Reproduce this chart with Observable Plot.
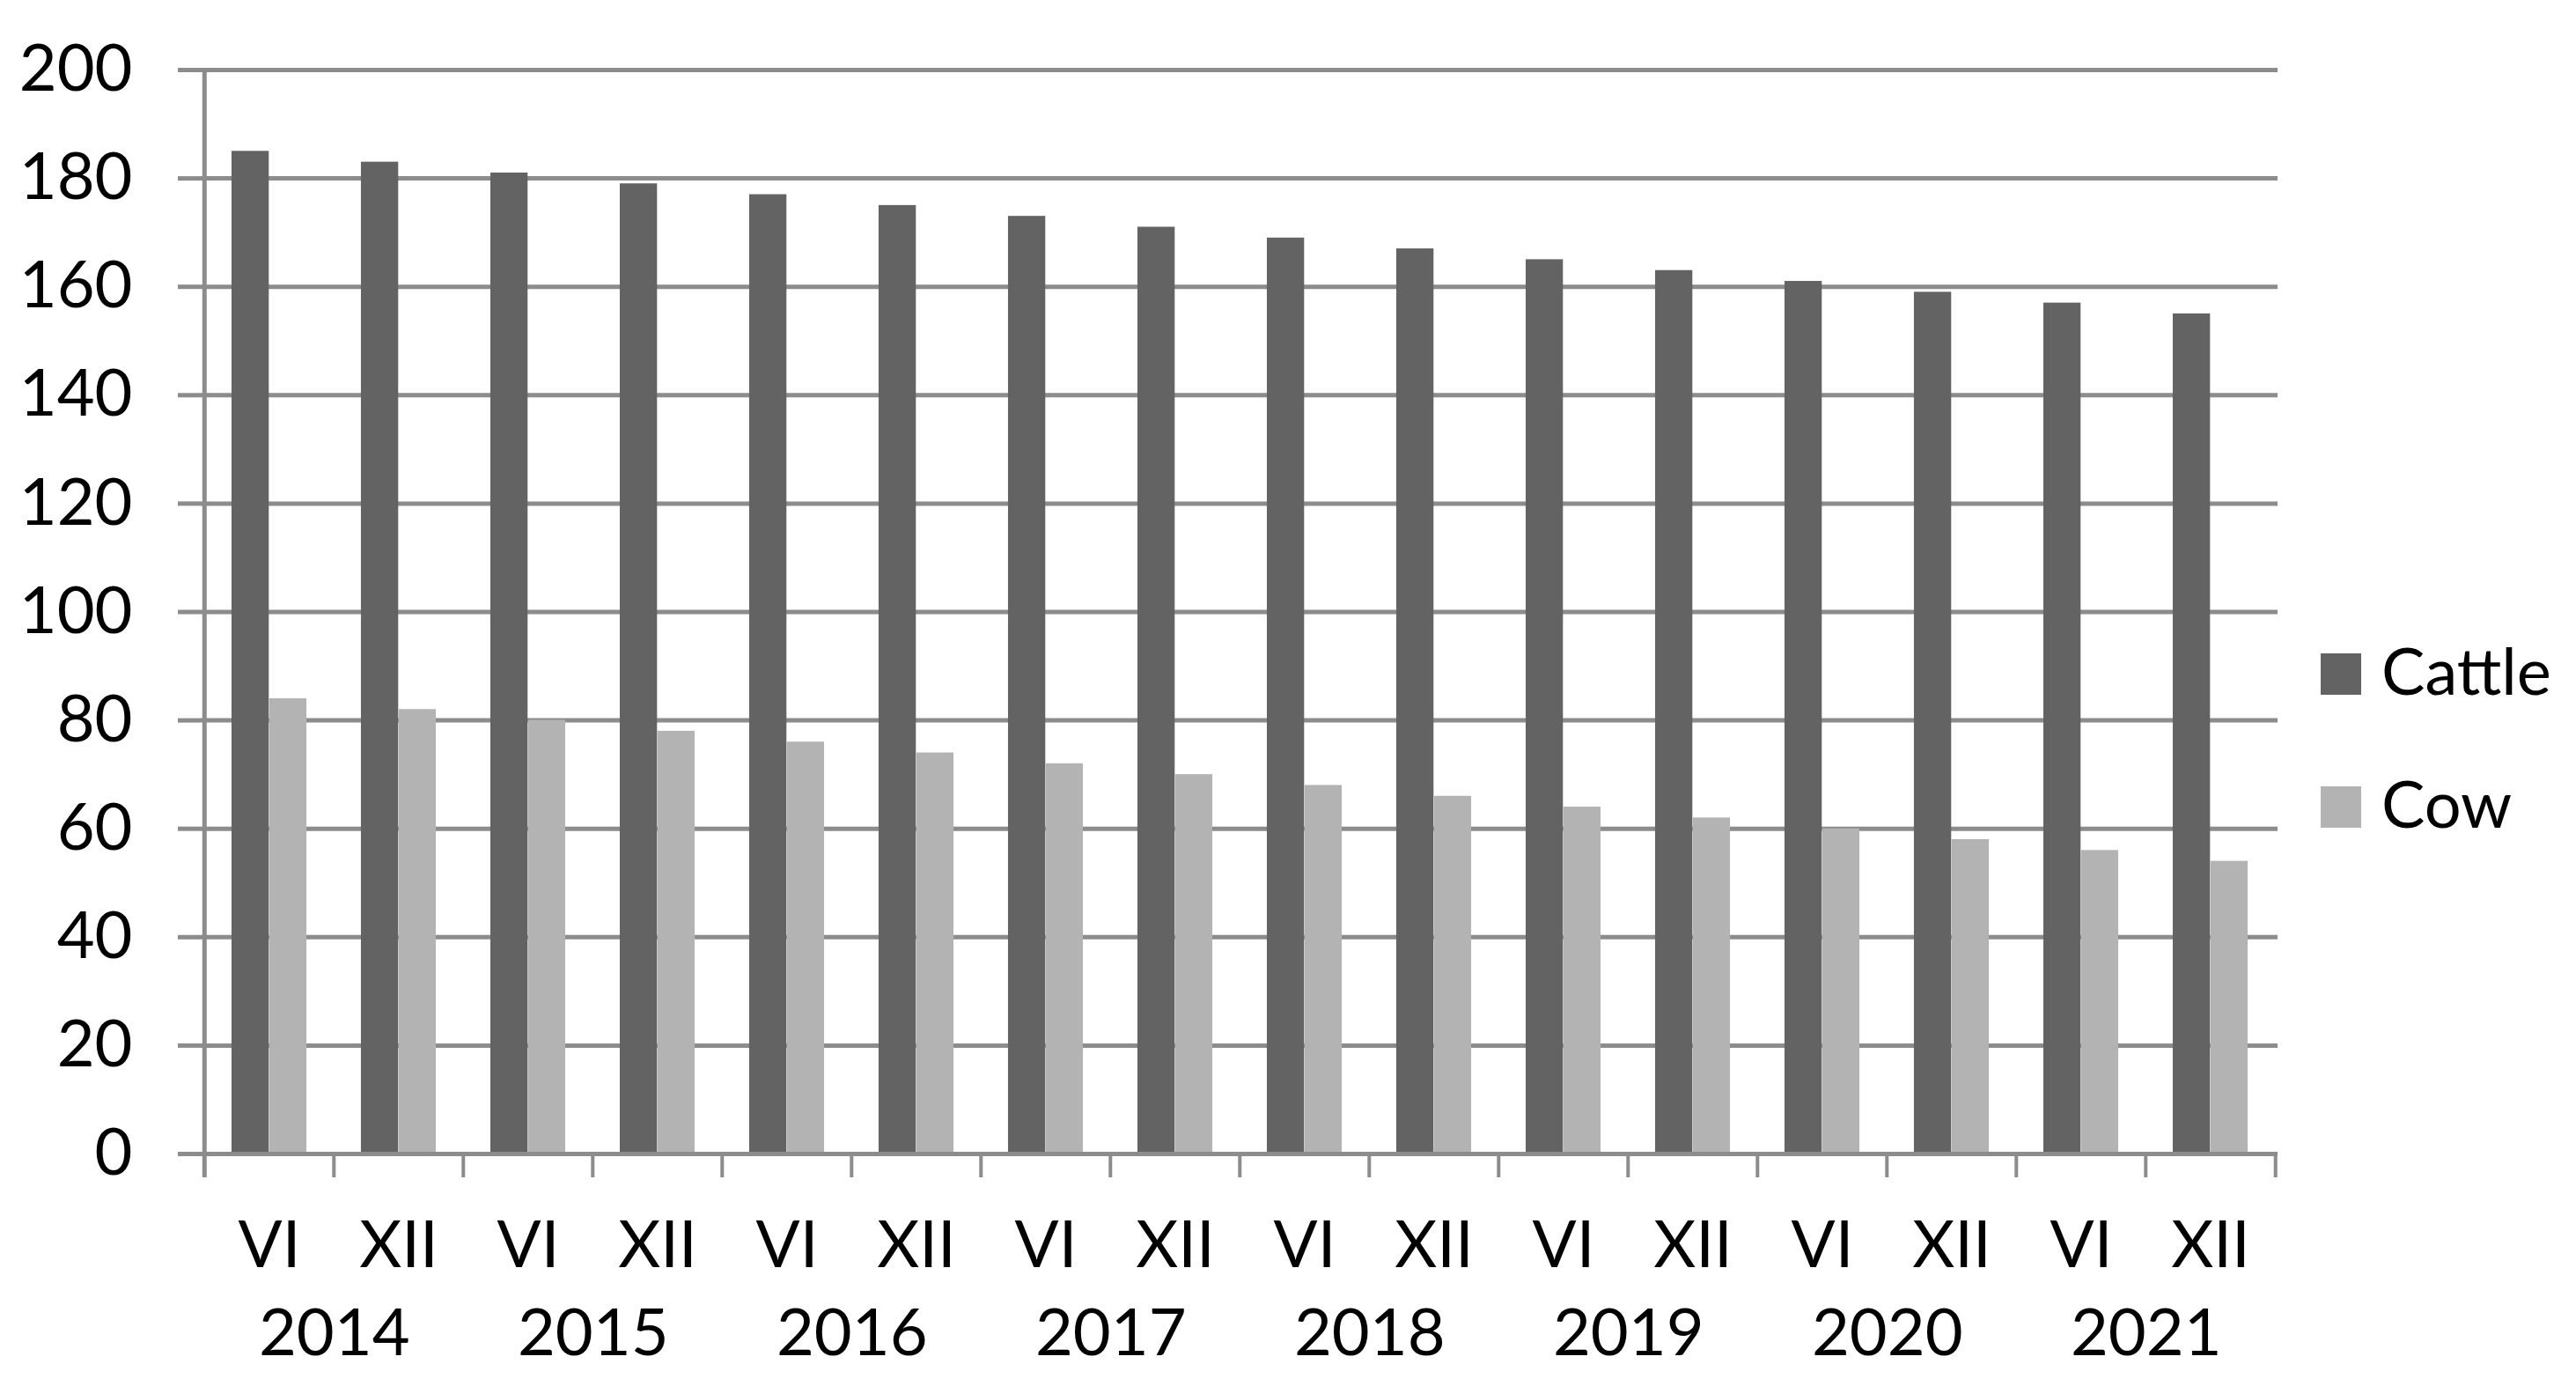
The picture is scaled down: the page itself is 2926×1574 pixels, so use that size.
<!DOCTYPE html>
<html>
<head>
<meta charset="utf-8">
<script src="https://cdn.jsdelivr.net/npm/d3@7"></script>
<script src="https://cdn.jsdelivr.net/npm/@observablehq/plot@0.6"></script>
<style>
  html, body { margin: 0; padding: 0; background: #fff; }
  #wrap { position: relative; width: 2926px; height: 1574px; font-family: Lato, "Open Sans", sans-serif; }
  #legend { position: absolute; left: 2636px; top: 726px; }
  .item { display: flex; align-items: center; height: 70px; margin-bottom: 81px; }
  .sw { width: 46px; height: 47px; margin-right: 23px; margin-top: 8px; }
  .lab { font-size: 74px; color: #000; line-height: 1; }
</style>
</head>
<body>
<div id="wrap"><div id="legend"></div></div>
<script>
// ---- data ----
const years = ["2014", "2015", "2016", "2017", "2018", "2019", "2020", "2021"];
const months = ["VI", "XII"];
const seriesNames = ["Cattle", "Cow"];
const cattle = [185, 183, 181, 179, 177, 175, 173, 171, 169, 167, 165, 163, 161, 159, 157, 155];
const cow = [84, 82, 80, 78, 76, 74, 72, 70, 68, 66, 64, 62, 60, 58, 56, 54];
const yTicks = [0, 20, 40, 60, 80, 100, 120, 140, 160, 180, 200];

// ---- styles ----
const colors = {Cattle: "#636363", Cow: "#b3b3b3"};
const gridColor = "#8c8c8c";

const periods = years.flatMap(y => months.map(m => `${m} ${y}`));
const rowsCattle = periods.map((p, i) => ({period: p, series: "Cattle", value: cattle[i]}));
const rowsCow = periods.map((p, i) => ({period: p, series: "Cow", value: cow[i]}));

const W = 2926, H = 1574, mL = 228, mR = 339, mT = 79, mB = 264;
const step = (W - mL - mR) / periods.length;
const bw = step * 0.29;
const tickLen = 27;
const fs = 74;

const chart = Plot.plot({
  width: W, height: H,
  marginLeft: mL, marginRight: mR, marginTop: mT, marginBottom: mB,
  style: {fontFamily: 'Lato, "Open Sans", sans-serif', fontSize: fs + "px", color: "#000", background: "#fff"},
  x: {domain: periods, padding: 0},
  y: {domain: [0, 200]},
  marks: [
    Plot.gridY(yTicks, {stroke: gridColor, strokeOpacity: 1, strokeWidth: 5}),
    Plot.barY(rowsCattle, {x: "period", y: "value", fill: colors.Cattle, insetLeft: step / 2 - bw, insetRight: step / 2}),
    Plot.barY(rowsCow, {x: "period", y: "value", fill: colors.Cow, insetLeft: step / 2, insetRight: step / 2 - bw}),
    Plot.ruleY([0], {stroke: gridColor, strokeWidth: 5}),
    Plot.axisY(yTicks, {tickSize: 26, tickPadding: 52, stroke: gridColor, strokeWidth: 5, fill: "#000", fontSize: fs, label: null, tickFormat: d => String(d)}),
    // vertical axis line
    Plot.ruleX(periods.slice(0, 1), {x: d => d, dx: -step / 2, insetBottom: -tickLen, stroke: gridColor, strokeWidth: 5}),
    // category boundary ticks
    Plot.ruleX(periods.slice(1), {x: d => d, dx: -step / 2, insetTop: H - mT - mB, insetBottom: -tickLen, stroke: gridColor, strokeWidth: 4}),
    Plot.ruleX(periods.slice(-1), {x: d => d, dx: step / 2, insetTop: H - mT - mB, insetBottom: -tickLen, stroke: gridColor, strokeWidth: 4}),
    Plot.axisX({tickSize: 0, tickPadding: 76, label: null, fontSize: fs, fill: "#000", tickFormat: p => p.split(" ")[0]}),
    Plot.text(periods.filter(p => p.startsWith("VI ")), {
      x: d => d, text: d => d.split(" ")[1], frameAnchor: "bottom", lineAnchor: "top",
      dx: step / 2, dy: 176, fontSize: fs, fill: "#000"
    })
  ]
});
document.getElementById("wrap").prepend(chart);

// legend
const legend = document.getElementById("legend");
for (const s of seriesNames) {
  const item = document.createElement("div");
  item.className = "item";
  const sw = document.createElement("div");
  sw.className = "sw";
  sw.style.background = colors[s];
  const lab = document.createElement("span");
  lab.className = "lab";
  lab.textContent = s;
  item.append(sw, lab);
  legend.append(item);
}
</script>
</body>
</html>
